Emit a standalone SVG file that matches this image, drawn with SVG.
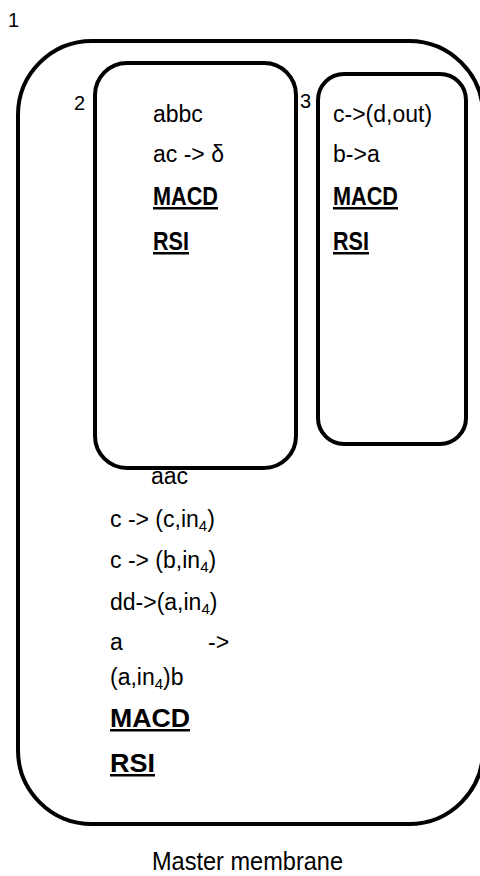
<svg xmlns="http://www.w3.org/2000/svg" width="480" height="876" viewBox="0 0 480 876">
  <style>
    .membrane { fill: none; stroke: #000; stroke-width: 4; }
    .t { font-family: "Liberation Sans", Arial, sans-serif; font-size: 23px; fill: #000; }
    .b { font-family: "Liberation Sans", Arial, sans-serif; font-size: 25px; font-weight: bold; fill: #000; text-decoration: underline; }
    .lbl { font-family: "Liberation Sans", Arial, sans-serif; font-size: 20px; fill: #000; }
    .sub { font-size: 15px; }
  </style>

  <!-- membrane 1 (skin) -->
  <g id="membrane-1">
    <rect class="membrane" x="18" y="41" width="465" height="783" rx="74" ry="74"/>
    <text class="lbl" x="8" y="27">1</text>
    <text class="t" x="151" y="484">aac</text>
    <text class="t" x="110" y="527">c -&gt; (c,in<tspan class="sub" dy="4">4</tspan><tspan dy="-4">)</tspan></text>
    <text class="t" x="110" y="568">c -&gt; (b,in<tspan class="sub" dy="4">4</tspan><tspan dy="-4">)</tspan></text>
    <text class="t" x="110" y="610">dd-&gt;(a,in<tspan class="sub" dy="4">4</tspan><tspan dy="-4">)</tspan></text>
    <text class="t" x="110" y="650">a</text>
    <text class="t" x="208" y="650">-&gt;</text>
    <text class="t" x="110" y="685">(a,in<tspan class="sub" dy="4">4</tspan><tspan dy="-4">)b</tspan></text>
    <text class="b" x="110" y="727" textLength="80" lengthAdjust="spacingAndGlyphs">MACD</text>
    <text class="b" x="110" y="772" textLength="45" lengthAdjust="spacingAndGlyphs">RSI</text>
  </g>

  <!-- membrane 2 -->
  <g id="membrane-2">
    <rect class="membrane" x="95" y="63" width="201" height="405" rx="32" ry="32"/>
    <text class="lbl" x="74" y="110">2</text>
    <text class="t" x="153" y="122">abbc</text>
    <text class="t" x="153" y="162">ac -&gt; δ</text>
    <text class="b" x="153" y="205" textLength="65" lengthAdjust="spacingAndGlyphs">MACD</text>
    <text class="b" x="153" y="250" textLength="36" lengthAdjust="spacingAndGlyphs">RSI</text>
  </g>

  <!-- membrane 3 -->
  <g id="membrane-3">
    <rect class="membrane" x="318" y="74" width="148" height="370" rx="26" ry="26"/>
    <text class="lbl" x="300" y="108">3</text>
    <text class="t" x="333" y="122">c-&gt;(d,out)</text>
    <text class="t" x="333" y="162">b-&gt;a</text>
    <text class="b" x="333" y="205" textLength="65" lengthAdjust="spacingAndGlyphs">MACD</text>
    <text class="b" x="333" y="250" textLength="36" lengthAdjust="spacingAndGlyphs">RSI</text>
  </g>

  <!-- caption -->
  <text class="t" x="152" y="870" style="font-size:26px" textLength="191" lengthAdjust="spacingAndGlyphs">Master membrane</text>

  <!-- no connectors in this diagram -->
  <g id="connectors"/>
</svg>
